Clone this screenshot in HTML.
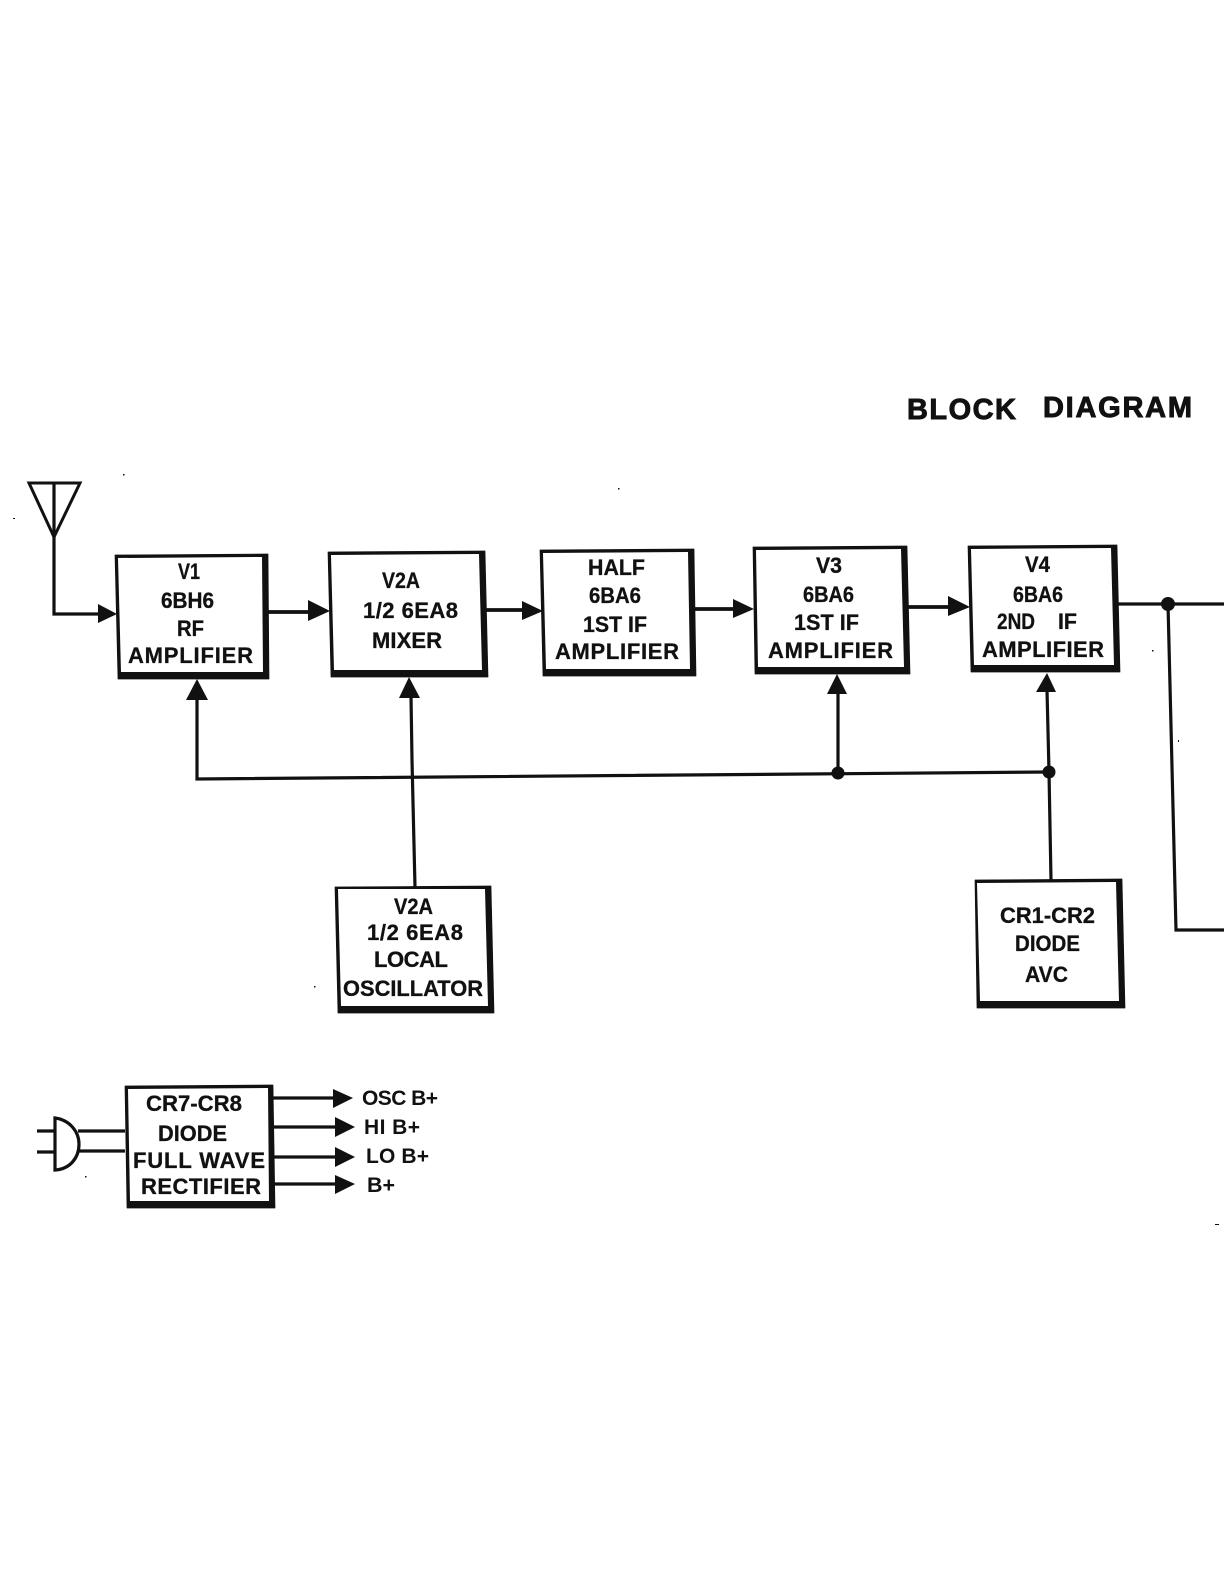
<!DOCTYPE html>
<html lang="en">
<head>
<meta charset="utf-8">
<title>Block Diagram</title>
<style>
html,body{margin:0;padding:0;background:#fff}
svg{display:block}
text{font-family:"Liberation Sans",sans-serif;font-weight:700;font-size:22px;fill:#111;stroke:#111;stroke-width:.3px}
.t{font-size:29px;stroke-width:.9px}
.l{font-weight:700;font-size:21px;stroke-width:0}
</style>
</head>
<body>
<svg width="1224" height="1584" viewBox="0 0 1224 1584" xmlns="http://www.w3.org/2000/svg">
<rect width="1224" height="1584" fill="#fff"/>

<!-- boxes -->
<g fill="#111" stroke="#111" stroke-width=".7" stroke-linejoin="round">
<polygon points="115,555 268,554 269,679 118,679"/>
<polygon points="328,552 485,551 488,677 331,677"/>
<polygon points="540,550 694,549 696,676 543,676"/>
<polygon points="753,547 907,546 910,674 755,674"/>
<polygon points="968,546 1117,545 1120,672 971,672"/>
<polygon points="335,887 491,886 494,1013 338,1013"/>
<polygon points="975,880 1122,879 1125,1008 977,1008"/>
<polygon points="125,1086 273,1085 275,1208 127,1208"/>
</g>
<g fill="#fff">
<polygon points="118,558 262,557 263,672 121,672"/>
<polygon points="331,555 479,554 482,670 334,670"/>
<polygon points="543,553 688,552 690,669 546,669"/>
<polygon points="756,550 901,549 904,667 758,667"/>
<polygon points="971,549 1111,548 1114,665 974,665"/>
<polygon points="338,889 485,889 488,1006 341,1006"/>
<polygon points="977,883 1116,882 1119,1001 980,1001"/>
<polygon points="128,1089 268,1088 269,1201 130,1201"/>
</g>

<!-- connectors -->
<g fill="none" stroke="#111" stroke-width="3.2">
<polygon points="29,483 80,483 54,537" stroke-width="3"/>
<polyline points="54,483 54,614 100,614"/>
<line x1="267" y1="612" x2="310" y2="612" stroke-width="3.8"/>
<line x1="486" y1="610" x2="524" y2="610" stroke-width="3.8"/>
<line x1="694" y1="609" x2="735" y2="609" stroke-width="3.8"/>
<line x1="906" y1="607" x2="950" y2="607" stroke-width="3.8"/>
<line x1="1117" y1="604" x2="1224" y2="604"/>
<polyline points="1168,604 1176,930 1224,930"/>
<polyline points="197,698 197,779 1049,772"/>
<polyline points="411,696 412,760 415,887"/>
<line x1="838" y1="692" x2="838" y2="773"/>
<polyline points="1047,690 1049,772 1051,880"/>
<line x1="272" y1="1098" x2="335" y2="1098"/>
<line x1="272" y1="1127" x2="337" y2="1127"/>
<line x1="272" y1="1157" x2="337" y2="1157"/>
<line x1="272" y1="1184" x2="337" y2="1184"/>
<line x1="37" y1="1131" x2="55" y2="1131"/>
<line x1="37" y1="1152" x2="55" y2="1152"/>
<line x1="78" y1="1131" x2="125" y2="1131"/>
<line x1="78" y1="1151" x2="125" y2="1151"/>
<path d="M55,1118 C70,1120 79,1132 79,1144 C79,1158 70,1169 55,1170 Z" fill="#fff"/>
</g>

<!-- arrowheads and dots -->
<g fill="#111">
<polygon points="98,604 117,614 98,623"/>
<polygon points="308,600 330,611 308,621"/>
<polygon points="522,601 543,611 522,620"/>
<polygon points="733,599 754,609 733,618"/>
<polygon points="948,596 970,607 948,616"/>
<polygon points="197,679 208,700 186,700"/>
<polygon points="409,677 420,698 399,698"/>
<polygon points="837,674 847,694 827,694"/>
<polygon points="1047,673 1056,692 1036,692"/>
<polygon points="333,1089 353,1098 333,1108"/>
<polygon points="335,1117 355,1127 335,1137"/>
<polygon points="335,1147 355,1157 335,1167"/>
<polygon points="335,1175 355,1184 335,1194"/>
<circle cx="1168" cy="604" r="7"/>
<circle cx="838" cy="773" r="6.5"/>
<circle cx="1049" cy="772" r="6.5"/>
<rect x="123" y="474" width="1.5" height="1.5"/>
<rect x="13" y="518" width="2" height="1"/>
<rect x="618" y="488" width="1.5" height="1.5"/>
<rect x="1152" y="650" width="1.5" height="1.5"/>
<rect x="1178" y="740" width="1" height="2"/>
<rect x="85" y="1176" width="1.5" height="1.5"/>
<rect x="1215" y="1224" width="4" height="1"/>
<rect x="314" y="986" width="1.5" height="1.5"/>
</g>

<!-- title -->
<text class="t" x="907" y="419" textLength="109">BLOCK</text>
<text class="t" x="1043" y="417" textLength="149">DIAGRAM</text>

<!-- V1 -->
<text x="178" y="579" textLength="22" lengthAdjust="spacingAndGlyphs">V1</text>
<text x="161" y="608" textLength="53" lengthAdjust="spacingAndGlyphs">6BH6</text>
<text x="177" y="636" textLength="27" lengthAdjust="spacingAndGlyphs">RF</text>
<text x="128" y="663" textLength="125">AMPLIFIER</text>
<!-- Mixer -->
<text x="382" y="588" textLength="38" lengthAdjust="spacingAndGlyphs">V2A</text>
<text x="363" y="618" textLength="95">1/2 6EA8</text>
<text x="372" y="648" textLength="70">MIXER</text>
<!-- Half -->
<text x="588" y="575" textLength="57" lengthAdjust="spacingAndGlyphs">HALF</text>
<text x="589" y="603" textLength="52" lengthAdjust="spacingAndGlyphs">6BA6</text>
<text x="583" y="632" textLength="64" lengthAdjust="spacingAndGlyphs">1ST IF</text>
<text x="555" y="659" textLength="124">AMPLIFIER</text>
<!-- V3 -->
<text x="816" y="573" textLength="26" lengthAdjust="spacingAndGlyphs">V3</text>
<text x="803" y="602" textLength="51" lengthAdjust="spacingAndGlyphs">6BA6</text>
<text x="794" y="630" textLength="65" lengthAdjust="spacingAndGlyphs">1ST IF</text>
<text x="768" y="658" textLength="125">AMPLIFIER</text>
<!-- V4 -->
<text x="1025" y="572" textLength="25" lengthAdjust="spacingAndGlyphs">V4</text>
<text x="1013" y="602" textLength="50" lengthAdjust="spacingAndGlyphs">6BA6</text>
<text x="997" y="629" textLength="38" lengthAdjust="spacingAndGlyphs">2ND</text>
<text x="1058" y="629" textLength="19" lengthAdjust="spacingAndGlyphs">IF</text>
<text x="982" y="657" textLength="122">AMPLIFIER</text>
<!-- Oscillator -->
<text x="394" y="914" textLength="39" lengthAdjust="spacingAndGlyphs">V2A</text>
<text x="367" y="940" textLength="96">1/2 6EA8</text>
<text x="374" y="967" textLength="74">LOCAL</text>
<text x="343" y="996" textLength="140" lengthAdjust="spacingAndGlyphs">OSCILLATOR</text>
<!-- AVC -->
<text x="1000" y="923" textLength="95" lengthAdjust="spacingAndGlyphs">CR1-CR2</text>
<text x="1015" y="951" textLength="65" lengthAdjust="spacingAndGlyphs">DIODE</text>
<text x="1025" y="982" textLength="43" lengthAdjust="spacingAndGlyphs">AVC</text>
<!-- Rectifier -->
<text x="146" y="1111" textLength="96" lengthAdjust="spacingAndGlyphs">CR7-CR8</text>
<text x="158" y="1141" textLength="69" lengthAdjust="spacingAndGlyphs">DIODE</text>
<text x="133" y="1168" textLength="132">FULL WAVE</text>
<text x="141" y="1194" textLength="120">RECTIFIER</text>
<!-- Outputs -->
<text class="l" x="362" y="1105" textLength="76">OSC B+</text>
<text class="l" x="364" y="1134" textLength="56">HI B+</text>
<text class="l" x="366" y="1163" textLength="63">LO B+</text>
<text class="l" x="367" y="1192" textLength="28" lengthAdjust="spacingAndGlyphs">B+</text>
</svg>
</body>
</html>
